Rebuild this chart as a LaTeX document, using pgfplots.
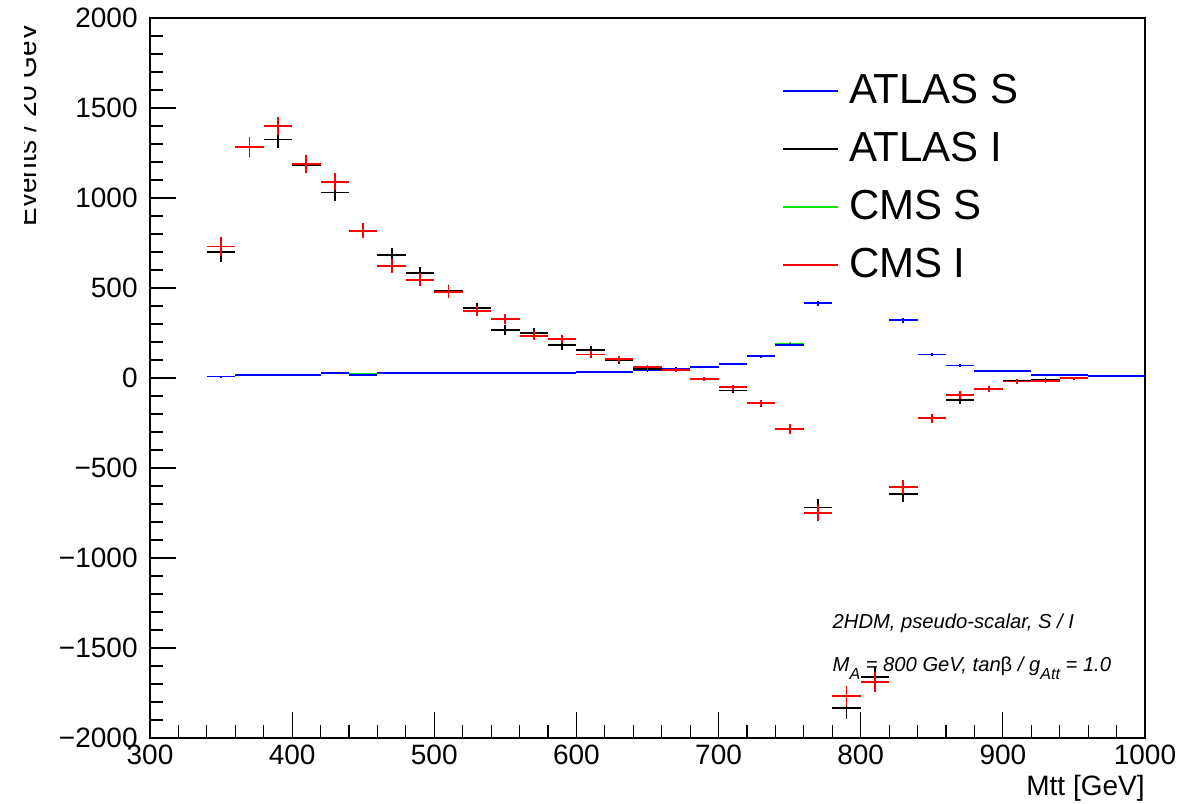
\documentclass[border=0pt]{standalone}
\usepackage{pgfplots}
\pgfplotsset{compat=1.18}
\usepackage{pgfplotstable}
\usepackage{fontspec}
\setmainfont{Liberation Sans}

% bin centre, content, error (20 GeV bins)
\pgfplotstableread{
x y e
350 8 4
370 18 4
390 18 4
410 18 4
430 27 5
450 18 5
470 26 5
490 26 5
510 26 5
530 26 5
550 26 5
570 26 5
590 26 5
610 34 5
630 33 5
650 44 6
670 48 6
690 62 7
710 78 8
730 121 9
750 185 10
770 415 15
830 320 14
850 130 10
870 69 8
890 37 6
910 37 6
930 18 5
950 18 5
970 9 4
990 9 4
}\atlasS

\pgfplotstableread{
x y e
350 8 4
370 18 4
390 18 4
410 18 4
430 27 5
450 20 5
470 26 5
490 26 5
510 26 5
530 26 5
550 26 5
570 26 5
590 26 5
610 34 5
630 33 5
650 44 6
670 48 6
690 62 7
710 78 8
730 121 9
750 190 10
770 415 15
830 320 14
850 130 10
870 69 8
890 37 6
910 37 6
930 18 5
950 18 5
970 9 4
990 9 4
}\cmsS

\pgfplotstableread{
x y e
350 700 55
370 1280 50
390 1325 48
410 1185 45
430 1030 45
450 815 40
470 683 40
490 582 36
510 485 34
530 387 30
550 267 28
570 252 26
590 182 24
610 156 22
630 100 20
650 48 15
670 45 14
690 -5 12
710 -70 15
730 -141 20
750 -285 28
770 -719 45
790 -1835 60
810 -1659 55
830 -646 42
850 -224 26
870 -122 20
890 -61 15
910 -17 12
930 -11 10
950 -2 8
}\atlasI

\pgfplotstableread{
x y e
350 730 55
370 1285 52
390 1402 50
410 1187 50
430 1091 46
450 818 42
470 624 38
490 546 36
510 478 34
530 372 30
550 328 28
570 235 25
590 217 24
610 130 20
630 105 18
650 59 15
670 44 12
690 -4 12
710 -52 15
730 -140 18
750 -285 28
770 -750 42
790 -1767 58
810 -1687 55
830 -604 40
850 -224 26
870 -94 20
890 -62 15
910 -20 12
930 -17 10
950 -2 8
}\cmsI

\pgfplotsset{
  rootpt/.style={only marks, mark=-, mark size=0pt, line width=0.9pt, forget plot,
    error bars/.cd, x dir=both, x fixed=10, y dir=both, y explicit,
    error mark=none, error bar style={line width=0.9pt}, /pgfplots/.cd},
}
\newcommand\rsub[1]{\raisebox{-4pt}{\fontsize{8}{9}\selectfont #1}}

\begin{document}
\begin{tikzpicture}
\begin{axis}[
    scale only axis,
    width=497.5pt, height=360pt,
    xmin=300, xmax=1000, ymin=-2000, ymax=2000,
    xtick={300,400,...,1000},
    xticklabels={300,400,500,600,700,800,900,1000},
    ytick={-2000,-1500,...,2000},
    yticklabels={−2000,−1500,−1000,−500,0,500,1000,1500,2000},
    minor x tick num=4, minor y tick num=4,
    tick pos=left, tick align=inside,
    major tick length=13pt, minor tick length=6.5pt,
    tick style={black, line width=0.6pt},
    axis line style={line width=1pt},
    ticklabel style={font=\fontsize{14}{16}\selectfont},
    xticklabel style={inner sep=0pt, yshift=-3.5pt},
    yticklabel style={inner sep=0pt, xshift=-6pt},
    legend style={draw=none, fill=none, at={(0.636,0.9236)}, anchor=north west,
      inner sep=0pt, outer sep=0pt, font=\fontsize{21}{25}\selectfont,
      row sep=14pt, nodes={inner sep=0pt, text height=15pt, text depth=0pt}},
    legend cell align=left,
    legend image code/.code={\draw[#1] (0pt,-1.5pt) -- (27.5pt,-1.5pt); \path (32.5pt,0pt);},
]
\addlegendimage{blue, line width=0.6pt}
\addlegendentry{ATLAS S}
\addlegendimage{black, line width=0.6pt}
\addlegendentry{ATLAS I}
\addlegendimage{green!90!black, line width=0.6pt}
\addlegendentry{CMS S}
\addlegendimage{red, line width=0.6pt}
\addlegendentry{CMS I}

\addplot[green!90!black, rootpt] table[x=x, y=y, y error=e] {\cmsS};
\addplot[blue, rootpt] table[x=x, y=y, y error=e] {\atlasS};
\addplot[black, rootpt] table[x=x, y=y, y error=e] {\atlasI};
\addplot[red, rootpt] table[x=x, y=y, y error=e] {\cmsI};

\node[anchor=base west, inner sep=0pt, font=\fontsize{10.1}{12}\selectfont\itshape]
  at (axis cs:780,-1389) {2HDM, pseudo-scalar, S / I};
\node[anchor=base west, inner sep=0pt, font=\fontsize{10.1}{12}\selectfont\itshape]
  at (axis cs:780,-1633) {M\rsub{A} = 800 GeV, tan{\upshape β} / g\rsub{Att} = 1.0};
\end{axis}

\begin{scope}
  \clip ([xshift=-62.5pt]current axis.south west) rectangle ([yshift=20pt]current axis.north west);
  \node[rotate=90, anchor=base east, inner sep=0pt, font=\fontsize{14}{16}\selectfont]
    at ([xshift=-56.5pt, yshift=-2pt]current axis.north west) {Events / 20 GeV};
\end{scope}
\node[anchor=base east, inner sep=0pt, font=\fontsize{14}{16}\selectfont]
  at ([yshift=-28.5pt]current axis.south east) {Mtt [GeV]};

\pgfresetboundingbox
\path[use as bounding box] ([xshift=-75pt, yshift=-32.5pt]current axis.south west)
  rectangle ([xshift=27pt, yshift=9pt]current axis.north east);
\end{tikzpicture}
\end{document}
